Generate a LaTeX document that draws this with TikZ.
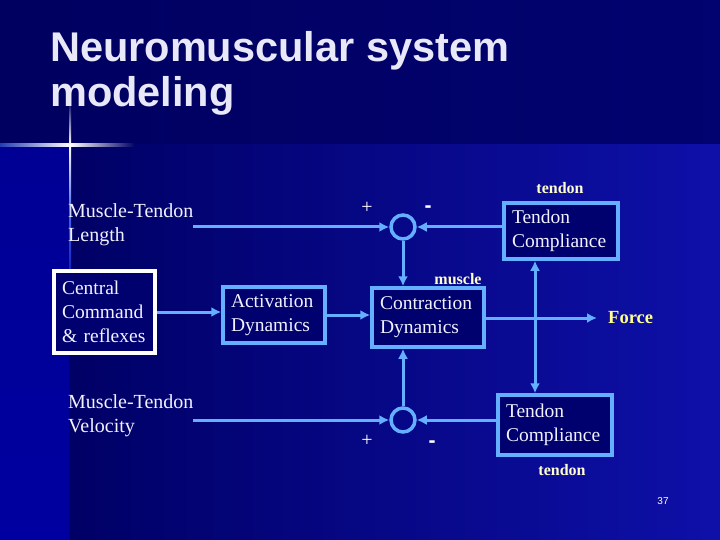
\documentclass[tikz,border=0pt]{standalone}
\usepackage{fontspec}
\setmainfont{Liberation Serif}
\newfontfamily\titlefont{Liberation Sans}
\usetikzlibrary{arrows.meta}
\definecolor{bgdark}{RGB}{0,0,102}
\definecolor{bgtop}{RGB}{0,0,96}
\definecolor{bgright}{RGB}{14,16,168}
\definecolor{bgstrip}{RGB}{0,0,160}
\definecolor{linec}{RGB}{100,175,255}
\definecolor{boxfill}{RGB}{0,0,110}
\definecolor{txtc}{RGB}{242,242,255}
\definecolor{titlec}{RGB}{232,232,248}
\definecolor{lblc}{RGB}{255,255,204}
\definecolor{forcec}{RGB}{255,255,140}
\definecolor{glow}{RGB}{60,100,230}
\tikzset{
  blk/.style={draw=linec, line width=3.5pt, fill=boxfill, text=txtc,
    font=\fontsize{19.5}{24}\selectfont, align=left, inner xsep=8pt, inner ysep=0pt},
  wblk/.style={blk, draw=white},
  arr/.style={draw=linec, line width=3pt, -{Latex[length=10pt,width=10pt]}},
  sum/.style={circle, draw=linec, line width=3.5pt, minimum size=24pt, inner sep=0pt},
  plain/.style={text=txtc, font=\fontsize{20}{24}\selectfont, align=left, inner sep=0pt},
  lbl/.style={text=lblc, font=\bfseries\fontsize{16}{18}\selectfont, inner sep=0pt},
  plus/.style={text=white, font=\fontsize{20}{20}\selectfont, inner sep=0pt},
  minus/.style={text=white, font=\titlefont\bfseries\fontsize{21}{21}\selectfont, inner sep=0pt},
}
\begin{document}
\begin{tikzpicture}[x=1pt,y=-1pt]
\useasboundingbox (0,0) rectangle (720,540);
% background
\fill[bgdark] (0,0) rectangle (720,540);
\shade[left color=bgtop, right color=bgdark!85!bgright] (0,0) rectangle (720,145);
\shade[left color=bgdark, right color=bgright] (70,145) rectangle (720,540);
\shade[top color=bgstrip!80!bgdark, bottom color=bgstrip] (0,145) rectangle (69,540);
% decorative cross
\shade[left color=glow!60!bgdark, right color=white] (0,144) rectangle (70,146.2);
\shade[left color=white, right color=bgdark] (70,144) rectangle (135,146.2);
\shade[top color=bgtop, bottom color=white] (69,100) rectangle (71.2,145);
\shade[top color=white, bottom color=glow] (69,145) rectangle (71.2,215);
\shade[top color=glow, bottom color=bgstrip] (69,215) rectangle (71.2,300);
% title
\node[anchor=base west, inner sep=0pt, text=titlec, font=\titlefont\bfseries\fontsize{41.5}{46}\selectfont] (t1) at (50,62) {Neuromuscular system};
\node[anchor=base west, inner sep=0pt, text=titlec, font=\titlefont\bfseries\fontsize{41.5}{46}\selectfont] (t2) at (50,107) {modeling};
% input labels
\node[plain, anchor=west] (len) at (68,225) {Muscle-Tendon\\Length};
\node[plain, anchor=west] (vel) at (68,416) {Muscle-Tendon\\Velocity};
% blocks
\node[wblk, minimum width=101pt, minimum height=82pt, text width=85pt] (cc) at (104.5,312) {Central\\Command\\\& reflexes};
\node[blk, minimum width=102pt, minimum height=56pt, text width=86pt] (ad) at (274,315) {Activation\\Dynamics};
\node[blk, minimum width=112pt, minimum height=59pt, text width=96pt] (cd) at (428,317.5) {Contraction\\Dynamics};
\node[blk, minimum width=114pt, minimum height=56pt, text width=98pt] (tc1) at (561,231) {Tendon\\Compliance};
\node[blk, minimum width=114pt, minimum height=60pt, text width=98pt] (tc2) at (555,425) {Tendon\\Compliance};
% summing junctions
\node[sum] (sa) at (403,227) {};
\node[sum] (sb) at (403,420) {};
% labels
\node[lbl] (lt1) at (560,188) {tendon};
\node[lbl] (lm) at (458,279) {muscle};
\node[lbl] (lt2) at (562,470) {tendon};
\node[text=forcec, font=\bfseries\fontsize{18.5}{20}\selectfont, inner sep=0pt, anchor=west] (force) at (608,318) {Force};
\node[plus] (pa) at (367,208) {+};
\node[minus] (ma) at (428,209) {-};
\node[plus] (pb) at (367,441) {+};
\node[minus] (mb) at (432,444) {-};
\node[text=white, font=\titlefont\fontsize{10}{12}\selectfont, inner sep=0pt] (pg) at (663,501) {37};
% connector coordinates
\coordinate (lenEnd) at (193,227);
\coordinate (velEnd) at (193,420);
\coordinate (fEnd) at (597,318);
\coordinate (j) at (535,318);
% connectors
\draw[arr] (lenEnd) -- (sa.west);
\draw[arr] (tc1.west |- sa) -- (sa.east);
\draw[arr] (sa.south) -- (sa.south |- cd.north);
\draw[arr] (cc.east) -- (cc.east -| ad.west);
\draw[arr] (ad.east) -- (ad.east -| cd.west);
\draw[arr] (cd.east |- fEnd) -- (fEnd);
\draw[arr] (j) -- (j |- tc1.south);
\draw[arr] (j) -- (j |- tc2.north);
\draw[arr] (sb.north) -- (sb.north |- cd.south);
\draw[arr] (velEnd) -- (sb.west);
\draw[arr] (tc2.west |- sb) -- (sb.east);
\end{tikzpicture}
\end{document}
